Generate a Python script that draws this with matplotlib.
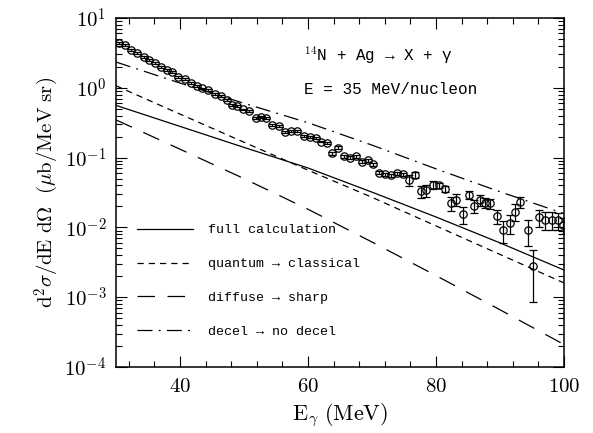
import matplotlib
matplotlib.use("Agg")
import matplotlib.pyplot as plt
import numpy as np
from matplotlib.ticker import MultipleLocator, LogLocator, NullFormatter

energy = [30.4, 31.4, 32.4, 33.3, 34.3, 35.2, 36.1, 37.1, 37.9, 38.8,
          39.7, 40.8, 41.7, 42.6, 43.5, 44.4, 45.4, 46.4, 47.3, 48.1,
          48.9, 49.9, 50.8, 51.9, 52.7, 53.5, 54.3, 55.4, 56.4, 57.4,
          58.3, 59.4, 60.3, 61.25, 62.1, 62.9, 63.8, 64.7, 65.6, 66.5,
          67.5, 68.4, 69.3, 70.2, 71.1, 72.1, 73.0, 73.9, 74.9, 75.8,
          76.7, 77.6, 78.5, 79.5, 80.4, 81.4, 82.3, 83.2, 84.2, 85.1,
          86.0, 86.9, 87.7, 88.5, 89.6, 90.5, 91.5, 92.3, 93.2, 94.3,
          95.2, 96.1, 97.1, 98.1, 99.0, 99.8]
xsec = [4.43, 4.10, 3.48, 3.12, 2.79, 2.50, 2.29, 2.00, 1.80, 1.70,
        1.41, 1.32, 1.18, 1.06, 0.98, 0.93, 0.82, 0.76, 0.67, 0.57,
        0.55, 0.49, 0.47, 0.365, 0.385, 0.365, 0.293, 0.284, 0.234, 0.240,
        0.240, 0.204, 0.200, 0.190, 0.170, 0.162, 0.115, 0.138, 0.105, 0.100,
        0.105, 0.087, 0.091, 0.081, 0.061, 0.058, 0.056, 0.060, 0.058, 0.048,
        0.056, 0.033, 0.034, 0.041, 0.040, 0.036, 0.022, 0.025, 0.0155, 0.0295,
        0.0204, 0.0245, 0.0226, 0.0221, 0.0145, 0.0091, 0.0115, 0.0168, 0.0234, 0.0091,
        0.0028, 0.0141, 0.0129, 0.0129, 0.0126, 0.0108]
rel_err = [0.03] * 36 + [0.05] * 13 + [0.18, 0.10, 0.19, 0.19, 0.12, 0.08,
           0.10, 0.23, 0.20, 0.28, 0.14, 0.20, 0.18, 0.17, 0.17, 0.23,
           0.35, 0.30, 0.27, 0.18, 0.40, 0.70, 0.27, 0.30, 0.30, 0.28, 0.25]

# model curves
e_model = [30, 40, 50, 60, 70, 80, 90, 100]
full_calc = [0.56, 0.28, 0.14, 0.071, 0.032, 0.0141, 0.0060, 0.00245]
classical = [1.07, 0.42, 0.166, 0.066, 0.027, 0.0105, 0.0041, 0.0016]
sharp = [0.347, 0.132, 0.050, 0.0182, 0.00617, 0.00204, 6.6e-4, 2.1e-4]
no_decel = [2.34, 1.17, 0.60, 0.316, 0.151, 0.069, 0.0324, 0.0158]

x_ticks = [40, 60, 80, 100]
y_ticks = [1e-4, 1e-3, 1e-2, 1e-1, 1e0, 1e1]
y_ticklabels = [r"$10^{-4}$", r"$10^{-3}$", r"$10^{-2}$", r"$10^{-1}$", r"$10^{0}$", r"$10^{1}$"]

plt.rcParams["mathtext.fontset"] = "cm"
plt.rcParams["font.family"] = ["DejaVu Serif"]
mono = ["Liberation Mono", "DejaVu Sans Mono"]

fig = plt.figure(figsize=(5.93, 4.33), dpi=100)
ax = fig.add_axes([116 / 593, 1 - 367 / 433, 448 / 593, 349 / 433])

yerr = np.array(xsec) * np.array(rel_err)
ax.errorbar(energy, xsec, yerr=yerr, fmt="o", mfc="none", mec="black", ecolor="black",
            ms=5.3, mew=0.9, elinewidth=0.9, capsize=2.8, capthick=0.9, zorder=3)

ax.plot(e_model, full_calc, color="black", lw=0.9, label="full calculation")
ax.plot(e_model, classical, color="black", lw=0.9, dashes=(5, 4), label="quantum \u2192 classical")
ax.plot(e_model, sharp, color="black", lw=0.9, dashes=(14, 10), label="diffuse \u2192 sharp")
ax.plot(e_model, no_decel, color="black", lw=0.9, dashes=(12, 5, 1.5, 5), label="decel \u2192 no decel")

ax.set_yscale("log")
ax.set_xlim(30, 100)
ax.set_ylim(1e-4, 1e1)

ax.set_xticks(x_ticks)
ax.set_xticklabels([rf"${t}$" for t in x_ticks])
ax.xaxis.set_minor_locator(MultipleLocator(4))
ax.set_yticks(y_ticks)
ax.set_yticklabels(y_ticklabels)
ax.yaxis.set_minor_locator(LogLocator(base=10, subs=np.arange(2, 10)))
ax.yaxis.set_minor_formatter(NullFormatter())

ax.tick_params(which="both", direction="in", top=True, right=True, width=0.8, labelsize=15)
ax.tick_params(which="major", length=8, pad=7)
ax.tick_params(which="minor", length=4)
for sp in ax.spines.values():
    sp.set_linewidth(1.1)

ax.set_xlabel(r"$\mathrm{E}_\gamma\ \mathrm{(MeV)}$", fontsize=16, labelpad=4)
ax.set_ylabel(r"$\mathrm{d}^2\sigma/\mathrm{dE\ d}\Omega\ \ (\mu\mathrm{b/MeV\ sr})$", fontsize=15, labelpad=2)

ax.text(59.4, 2.95, "$^{14}$N + Ag \u2192 X + \u03b3", family=mono, fontsize=11.5, va="center")
ax.text(59.4, 0.93, "E = 35 MeV/nucleon", family=mono, fontsize=11.5, va="center")

leg = ax.legend(loc="upper left", bbox_to_anchor=(0.047, 0.41), frameon=False,
                prop={"family": mono, "size": 9.6}, handlelength=4.2, handletextpad=1.1,
                labelspacing=1.62, borderpad=0, borderaxespad=0)

fig.savefig("out.png", dpi=100)
